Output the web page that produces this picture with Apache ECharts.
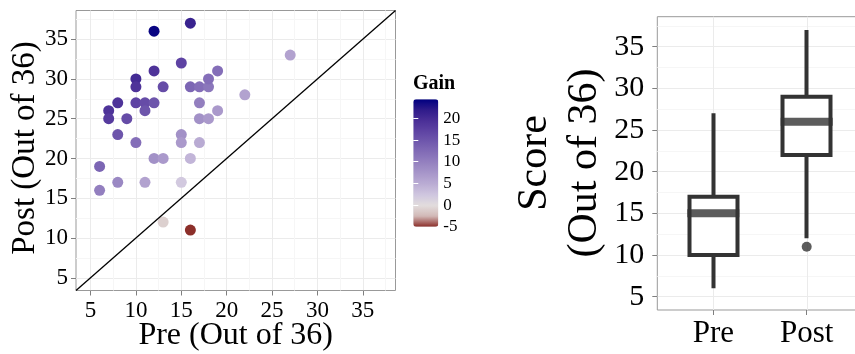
<!DOCTYPE html>
<html><head><meta charset="utf-8">
<script src="https://cdn.jsdelivr.net/npm/echarts@6/dist/echarts.min.js"></script>
<style>html,body{margin:0;padding:0;background:#fff}#c{width:855px;height:354px}</style>
</head><body><div id="c"></div>
<script>
// ---- data ----
const preScores  = [12,16,27,15,12,19,10,10,13,16,17,18,18, 8,10,11,12,11, 7, 7, 9,17,19,17,18, 8,15,10,15,17,12,13,16, 6, 6, 8,11,15,13,16,22];
const postScores = [36,37,33,32,31,31,30,29,29,29,29,29,30,27,27,27,27,26,26,25,25,27,26,25,25,23,23,22,22,22,20,20,20,19,16,17,17,17,12,11,28];
const boxCategories = ['Pre', 'Post'];
const boxLow    = [6, 12];
const boxQ1     = [10, 22];
const boxMedian = [15, 26];
const boxQ3     = [17, 29];
const boxHigh   = [27, 37];
const outlierCats = ['Post'];
const outlierVals = [11];
const scoreTicks = [5, 10, 15, 20, 25, 30, 35];
const scoreMinorTicks = [7.5, 12.5, 17.5, 22.5, 27.5, 32.5, 37.5];
const gainTicks = [-5, 0, 5, 10, 15, 20];
const gainInnerTicks = [0, 5, 10, 15, 20];
const diagonalRange = [3.4, 38.6];

// ---- styling ----
const FONT = "'Liberation Serif', 'Times New Roman', serif";
const MAJOR = '#ebebeb', MINOR = '#f6f6f6', TICK = '#7f7f7f';
const AX_MIN = 3.4, AX_MAX = 38.6;

function gridAxis(gridIndex, type, opt) {
  return Object.assign({
    gridIndex, type: 'value', min: AX_MIN, max: AX_MAX,
    axisLine: {show: false},
    axisTick: {show: false},
    axisLabel: {show: false},
    splitLine: {show: false}
  }, opt);
}
function majorAxis(gridIndex, fontSize, margin, showLabels) {
  return gridAxis(gridIndex, 'value', {
    axisTick: {show: showLabels, customValues: scoreTicks, length: 5, lineStyle: {color: TICK, width: 1}},
    axisLabel: {show: showLabels, customValues: scoreTicks, fontFamily: FONT, fontSize, color: '#000', margin},
    splitLine: {show: true, lineStyle: {color: MAJOR, width: 1}}
  });
}
function minorAxis(gridIndex, vals) {
  return gridAxis(gridIndex, 'value', {
    axisTick: {show: false, customValues: vals || scoreMinorTicks},
    splitLine: {show: true, lineStyle: {color: MINOR, width: 1}}
  });
}

const scatterData = preScores.map((p, i) => [p, postScores[i], postScores[i] - p]);

const option = {
  animation: false,
  backgroundColor: '#fff',
  grid: [
    {left: 76, top: 10.5, width: 319.5, height: 280, show: true, borderColor: '#999', borderWidth: 1, backgroundColor: '#fff', outerBoundsMode: 'none', containLabel: false},
    {left: 413.3, top: 99.3, width: 25, height: 127.4, outerBoundsMode: 'none', containLabel: false},
    {left: 657.3, top: 16.7, width: 205.5, height: 293.3, show: true, borderColor: '#999', borderWidth: 1, backgroundColor: '#fff', outerBoundsMode: 'none', containLabel: false},
    {left: 666.6, top: 16.7, width: 186.8, height: 293.3, outerBoundsMode: 'none', containLabel: false}
  ],
  xAxis: [
    majorAxis(0, 23, 9, true),
    minorAxis(0),
    gridAxis(1, 'value', {min: 0, max: 1, show: false}),
    gridAxis(2, 'value', {min: 0.4, max: 2.6,
      axisTick: {show: false, customValues: [1, 2]},
      splitLine: {show: true, lineStyle: {color: MAJOR, width: 1}}}),
    minorAxis(2, [0.5, 1.5, 2.5]),
    {gridIndex: 3, type: 'category', data: boxCategories,
      axisLine: {show: false},
      axisTick: {show: true, alignWithLabel: true, length: 5, lineStyle: {color: TICK, width: 1}},
      axisLabel: {fontFamily: FONT, fontSize: 31, color: '#000', margin: 8},
      splitLine: {show: false}}
  ],
  yAxis: [
    majorAxis(0, 23, 8, true),
    minorAxis(0),
    {gridIndex: 1, type: 'value', min: -5, max: 24.4, position: 'right', z: 10,
      axisLine: {show: false}, splitLine: {show: false},
      axisTick: {show: true, inside: true, length: 5, customValues: gainInnerTicks, lineStyle: {color: '#fff', width: 1}},
      axisLabel: {customValues: gainTicks, fontFamily: FONT, fontSize: 17, color: '#000', margin: 5}},
    {gridIndex: 1, type: 'value', min: -5, max: 24.4, position: 'left', z: 10,
      axisLine: {show: false}, splitLine: {show: false},
      axisTick: {show: true, inside: true, length: 5, customValues: gainInnerTicks, lineStyle: {color: '#fff', width: 1}},
      axisLabel: {show: false}},
    majorAxis(2, 30, 13, true),
    minorAxis(2),
    gridAxis(3, 'value', {show: false})
  ],
  visualMap: [{
    type: 'continuous', seriesIndex: 0, dimension: 2,
    min: -5, max: 24.4, calculable: false, hoverLink: false,
    left: 413.3, top: 99.3, itemWidth: 25, itemHeight: 127.4, padding: 0,
    inRange: {color: ['#8c2f2a', '#d2b9b7', '#e2dddd', '#cfc6df', '#bbadd4', '#a897ca', '#9582c0',
                      '#836db7', '#7058ad', '#5e43a3', '#4a2f97', '#2f1b8a', '#000080']}
  }],
  series: [
    {type: 'scatter', xAxisIndex: 0, yAxisIndex: 0, data: scatterData, symbolSize: 11,
      itemStyle: {opacity: 1}, z: 3},
    {type: 'line', xAxisIndex: 0, yAxisIndex: 0, data: [[diagonalRange[0], diagonalRange[0]], [diagonalRange[1], diagonalRange[1]]],
      symbol: 'none', silent: true, clip: true, lineStyle: {color: '#000', width: 1.3}, z: 4},
    {type: 'candlestick', xAxisIndex: 5, yAxisIndex: 6, barWidth: 48,
      data: boxCategories.map((c, i) => [boxQ1[i], boxQ3[i], boxLow[i], boxHigh[i]]),
      itemStyle: {color: '#fff', color0: '#fff', borderColor: '#333', borderColor0: '#333', borderWidth: 4}},
    {type: 'scatter', xAxisIndex: 5, yAxisIndex: 6, symbol: 'rect', symbolSize: [52, 8],
      data: boxCategories.map((c, i) => [c, boxMedian[i]]), itemStyle: {color: '#333'}, z: 5},
    {type: 'scatter', xAxisIndex: 5, yAxisIndex: 6, symbolSize: 10,
      data: outlierCats.map((c, i) => [c, outlierVals[i]]), itemStyle: {color: '#333'}, z: 5}
  ],
  graphic: [
    {type: 'text', x: 235.7, y: 336, style: {text: 'Pre (Out of 36)', font: '32px ' + FONT, fill: '#000', textAlign: 'center', textVerticalAlign: 'middle'}},
    {type: 'text', x: 25, y: 148, rotation: Math.PI / 2, style: {text: 'Post (Out of 36)', font: '33px ' + FONT, fill: '#000', textAlign: 'center', textVerticalAlign: 'middle'}},
    {type: 'text', x: 535, y: 163, rotation: Math.PI / 2, style: {text: 'Score', font: '42px ' + FONT, fill: '#000', textAlign: 'center', textVerticalAlign: 'middle'}},
    {type: 'text', x: 585, y: 163, rotation: Math.PI / 2, style: {text: '(Out of 36)', font: '42px ' + FONT, fill: '#000', textAlign: 'center', textVerticalAlign: 'middle'}},
    {type: 'text', x: 413, y: 84, style: {text: 'Gain', font: 'bold 20px ' + FONT, fill: '#000', textAlign: 'left', textVerticalAlign: 'middle'}}
  ]
};
echarts.init(document.getElementById('c'), null, {renderer: 'canvas'}).setOption(option);
</script></body></html>
